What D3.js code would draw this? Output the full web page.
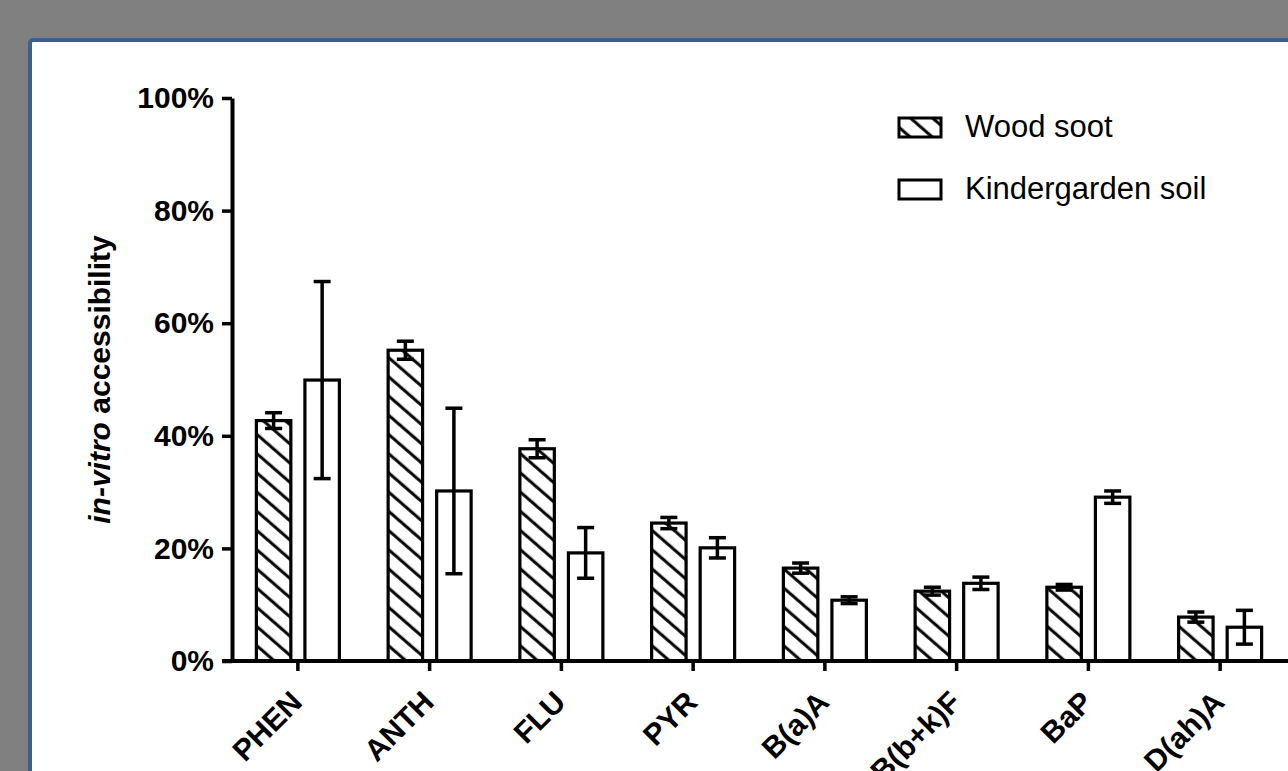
<!doctype html>
<html>
<head>
<script src="https://d3js.org/d3.v7.min.js"></script>
<style>
  body { margin: 0; background: #808080; }
  svg { display: block; }
</style>
</head>
<body>
<svg width="1288" height="771"></svg>
<script>
// values (percent)
var categories = ["PHEN", "ANTH", "FLU", "PYR", "B(a)A", "B(b+k)F", "BaP", "D(ah)A"];
var series = ["Wood soot", "Kindergarden soil"];
var woodSoot    = [42.7, 55.2, 37.7, 24.5, 16.5, 12.4, 13.1, 7.8];
var woodSootErr = [1.4, 1.6, 1.6, 1.0, 0.9, 0.7, 0.5, 0.9];
var soil        = [49.9, 30.2, 19.2, 20.1, 10.8, 13.8, 29.1, 6.0];
var soilErr     = [17.5, 14.7, 4.5, 1.8, 0.6, 1.1, 1.1, 3.0];
var yTicks = [0, 20, 40, 60, 80, 100];

var svg = d3.select("svg"),
    width = +svg.attr("width"),
    height = +svg.attr("height");

// grey backdrop + white panel with blue frame
svg.append("rect")
   .attr("width", width).attr("height", height)
   .attr("fill", "#808080");
svg.append("rect")
   .attr("x", 30).attr("y", 40)
   .attr("width", width + 20).attr("height", height + 20)
   .attr("rx", 3)
   .attr("fill", "#fff")
   .attr("stroke", "#3b5f8f")
   .attr("stroke-width", 4);

// diagonal hatch, slightly flatter than 45deg
var defs = svg.append("defs");
var hatch = defs.append("pattern")
   .attr("id", "hatch")
   .attr("patternUnits", "userSpaceOnUse")
   .attr("width", 14.5).attr("height", 14.5)
   .attr("patternTransform", "rotate(41)");
hatch.append("rect")
   .attr("width", 14.5).attr("height", 14.5).attr("fill", "#fff");
hatch.append("line")
   .attr("x1", 0).attr("x2", 14.5)
   .attr("y1", 7).attr("y2", 7)
   .attr("stroke", "#000")
   .attr("stroke-width", 3);

var x = d3.scaleBand().domain(categories).range([232, 1286]).padding(0);
var y = d3.scaleLinear().domain([0, 100]).range([661, 98]);
var xs = d3.scaleBand().domain(series)
   .range([x.bandwidth() / 2 - 41.5, x.bandwidth() / 2 + 41.5])
   .paddingInner(0.29);

var font = "'Liberation Sans', Arial, sans-serif";

var rows = categories.map(function(c, i) {
  return [
    {cat: c, s: series[0], v: woodSoot[i], e: woodSootErr[i]},
    {cat: c, s: series[1], v: soil[i], e: soilErr[i]}
  ];
});

var groups = svg.append("g").selectAll("g")
   .data(rows).enter().append("g")
   .attr("transform", function(d) { return "translate(" + x(d[0].cat) + ",0)"; });

groups.selectAll("rect")
   .data(function(d) { return d; }).enter().append("rect")
   .attr("x", function(d) { return xs(d.s); })
   .attr("y", function(d) { return y(d.v); })
   .attr("width", xs.bandwidth())
   .attr("height", function(d) { return y(0) - y(d.v); })
   .attr("fill", function(d) { return d.s === series[0] ? "url(#hatch)" : "#fff"; })
   .attr("stroke", "#000")
   .attr("stroke-width", 3.2);

// error bars
var cap = 8.5;
var eb = groups.selectAll("g.err")
   .data(function(d) { return d; }).enter().append("g")
   .attr("class", "err")
   .attr("stroke", "#000")
   .attr("stroke-width", 3.5);
eb.append("line")
   .attr("x1", function(d) { return xs(d.s) + xs.bandwidth() / 2; })
   .attr("x2", function(d) { return xs(d.s) + xs.bandwidth() / 2; })
   .attr("y1", function(d) { return y(d.v + d.e); })
   .attr("y2", function(d) { return y(d.v - d.e); });
eb.append("line")
   .attr("x1", function(d) { return xs(d.s) + xs.bandwidth() / 2 - cap; })
   .attr("x2", function(d) { return xs(d.s) + xs.bandwidth() / 2 + cap; })
   .attr("y1", function(d) { return y(d.v + d.e); })
   .attr("y2", function(d) { return y(d.v + d.e); });
eb.append("line")
   .attr("x1", function(d) { return xs(d.s) + xs.bandwidth() / 2 - cap; })
   .attr("x2", function(d) { return xs(d.s) + xs.bandwidth() / 2 + cap; })
   .attr("y1", function(d) { return y(d.v - d.e); })
   .attr("y2", function(d) { return y(d.v - d.e); });

// y axis
var yAxis = svg.append("g")
   .attr("transform", "translate(" + x.range()[0] + ",0)")
   .call(d3.axisLeft(y).tickValues(yTicks)
         .tickFormat(function(d) { return d + "%"; })
         .tickSize(10).tickSizeOuter(0).tickPadding(8));
yAxis.select(".domain").attr("stroke-width", 4);
yAxis.selectAll(".tick line").attr("stroke-width", 3.5);
yAxis.selectAll("text")
   .style("font-family", font).style("font-size", "30px")
   .style("font-weight", "bold").attr("fill", "#000");

// x axis
var xAxis = svg.append("g")
   .attr("transform", "translate(0," + y(0) + ")")
   .call(d3.axisBottom(x).tickSize(10).tickSizeOuter(0).tickFormat(""));
xAxis.select(".domain").remove();
xAxis.selectAll(".tick line").attr("stroke-width", 3.5);
xAxis.append("line")
   .attr("x1", x.range()[0] - 10).attr("x2", width)
   .attr("stroke", "#000").attr("stroke-width", 4);

svg.append("g").selectAll("text")
   .data(categories).enter().append("text")
   .attr("transform", function(d) {
     return "translate(" + (x(d) + x.bandwidth() / 2 + 6) + ",704) rotate(-45)";
   })
   .attr("text-anchor", "end")
   .style("font-family", font).style("font-size", "30px")
   .style("font-weight", "bold")
   .text(function(d) { return d; });

// y label
var yl = svg.append("text")
   .attr("transform", "translate(110," + y(50) + ") rotate(-90)")
   .attr("text-anchor", "middle")
   .style("font-family", font).style("font-size", "30px")
   .style("font-weight", "bold");
yl.append("tspan").style("font-style", "italic").text("in-vitro");
yl.append("tspan").text(" accessibility");

// legend
var legend = svg.append("g").selectAll("g")
   .data(series).enter().append("g")
   .attr("transform", function(d, i) { return "translate(899," + (118 + i * 62) + ")"; });
legend.append("rect")
   .attr("width", 42).attr("height", 19)
   .attr("fill", function(d, i) { return i === 0 ? "url(#hatch)" : "#fff"; })
   .attr("stroke", "#000").attr("stroke-width", 3);
legend.append("text")
   .attr("x", 66).attr("y", 19)
   .style("font-family", font).style("font-size", "31px")
   .text(function(d) { return d; });
</script>
</body>
</html>
